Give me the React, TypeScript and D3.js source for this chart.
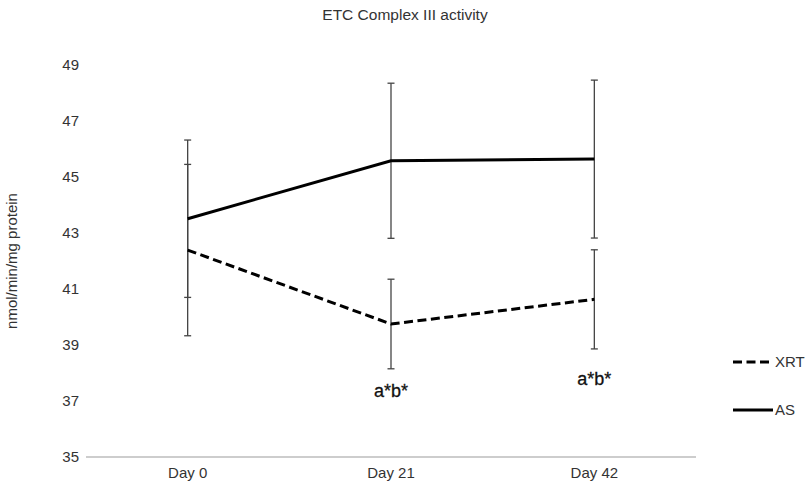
import React from "react";
import * as d3 from "d3";

const categories = ["Day 0", "Day 21", "Day 42"];
const xrtMean = [42.39, 39.75, 40.63];
const xrtErr = [3.06, 1.6, 1.77];
const asMean = [43.51, 45.58, 45.64];
const asErr = [2.81, 2.77, 2.82];
const yTicks = [35, 37, 39, 41, 43, 45, 47, 49];
const annotations = ["", "a*b*", "a*b*"];
const annotationY = [0, 37.14, 37.57];

const W = 810;
const H = 484;
const FONT = "'Liberation Sans', Arial, sans-serif";

export default function App() {
  const x = d3.scaleBand<string>().domain(categories).range([86, 696]);
  const cx = (c: string) => (x(c) as number) + x.bandwidth() / 2;
  const y = d3.scaleLinear().domain([35, 49]).range([457, 65]);

  const line = d3
    .line<number>()
    .x((_, i) => cx(categories[i]))
    .y((d) => y(d));

  const series = [
    { name: "XRT", mean: xrtMean, err: xrtErr, dash: "9,4.5" },
    { name: "AS", mean: asMean, err: asErr, dash: "" },
  ];

  return (
    <svg
      width={W}
      height={H}
      style={{ position: "absolute", left: 0, top: 0, background: "#fff" }}
      fontFamily={FONT}
    >
      <text x={405} y={20} textAnchor="middle" fontSize={15.5} fill="#333">
        ETC Complex III activity
      </text>

      {yTicks.map((t) => (
        <text
          key={t}
          x={79}
          y={y(t)}
          dy="0.35em"
          textAnchor="end"
          fontSize={15}
          fill="#333"
        >
          {t}
        </text>
      ))}

      <text
        transform={`translate(17,${y(42)}) rotate(-90)`}
        textAnchor="middle"
        fontSize={15}
        fill="#333"
      >
        nmol/min/mg protein
      </text>

      <line x1={86} x2={696} y1={y(35)} y2={y(35)} stroke="#bdbdbd" strokeWidth={1.3} />

      {categories.map((c) => (
        <text key={c} x={cx(c)} y={478} textAnchor="middle" fontSize={15} fill="#333">
          {c}
        </text>
      ))}

      {series.map((s) =>
        s.mean.map((m, i) => {
          const px = cx(categories[i]);
          const y1 = y(m + s.err[i]);
          const y2 = y(m - s.err[i]);
          return (
            <g key={s.name + i} stroke="#444" strokeWidth={1.3}>
              <line x1={px} x2={px} y1={y1} y2={y2} />
              <line x1={px - 3.5} x2={px + 3.5} y1={y1} y2={y1} />
              <line x1={px - 3.5} x2={px + 3.5} y1={y2} y2={y2} />
            </g>
          );
        })
      )}

      {series.map((s) => (
        <path
          key={s.name}
          d={line(s.mean) || ""}
          fill="none"
          stroke="#000"
          strokeWidth={3}
          strokeDasharray={s.dash || undefined}
        />
      ))}

      {annotations.map((a, i) =>
        a ? (
          <text
            key={i}
            x={cx(categories[i])}
            y={y(annotationY[i])}
            textAnchor="middle"
            fontSize={18}
            fill="#111"
            stroke="#111"
            strokeWidth={0.3}
          >
            {a}
          </text>
        ) : null
      )}

      {series.map((s, i) => (
        <g key={s.name}>
          <line
            x1={733}
            x2={773}
            y1={362 + i * 48}
            y2={362 + i * 48}
            stroke="#000"
            strokeWidth={3}
            strokeDasharray={s.dash || undefined}
          />
          <text x={775} y={362 + i * 48} dy="0.35em" fontSize={15} fill="#333">
            {s.name}
          </text>
        </g>
      ))}
    </svg>
  );
}
